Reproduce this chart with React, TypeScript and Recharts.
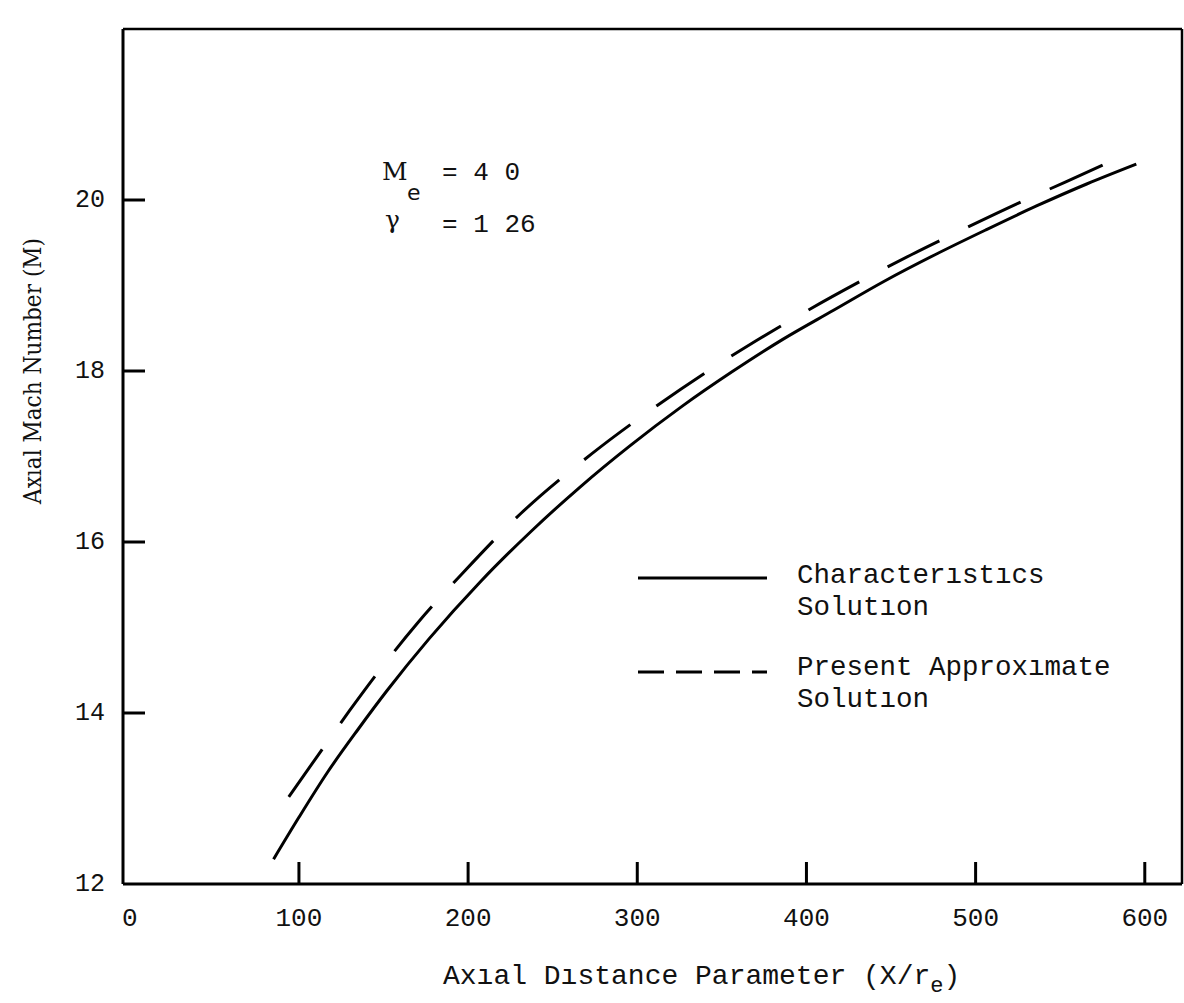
import React from 'react';
import { LineChart, Line, XAxis, YAxis, ReferenceLine, Legend } from 'recharts';

// ---- data ----
const xTicks = [0, 100, 200, 300, 400, 500, 600];
const yTicks = [12, 14, 16, 18, 20];

const charX = [85, 100, 117, 135, 152, 177, 207, 237, 266, 296, 326, 356, 386, 416, 446, 476, 506, 536, 566, 595];
const charM = [12.29, 12.78, 13.31, 13.81, 14.26, 14.87, 15.53, 16.12, 16.64, 17.13, 17.58, 17.99, 18.37, 18.71, 19.05, 19.36, 19.65, 19.93, 20.19, 20.42];

const approxX = [94, 110, 130, 150, 170, 197, 231, 273, 312, 341, 370, 400, 432, 462, 493, 525, 553, 581];
const approxM = [13.02, 13.47, 14.03, 14.56, 15.05, 15.64, 16.33, 17.03, 17.6, 17.99, 18.35, 18.7, 19.05, 19.36, 19.66, 19.96, 20.21, 20.46];

const seriesNames = ['Characterıstıcs|Solutıon', 'Present Approxımate|Solutıon'];

const charData = charX.map((x, i) => ({ x, m: charM[i] }));
const approxData = approxX.map((x, i) => ({ x, m: approxM[i] }));

const MONO = '"Liberation Mono", "DejaVu Sans Mono", monospace';
const SERIF = '"DejaVu Serif", "Liberation Serif", serif';
const INK = '#111';

const X_MARGIN = 35;
const Y_MARGIN = 33;
const TICK_LEN = 22;

const XTick = (props: any) => {
  const { x, y, payload } = props;
  const axisY = y - X_MARGIN;
  return (
    <g>
      {payload.value !== 0 && (
        <line x1={x} x2={x} y1={axisY} y2={axisY - TICK_LEN} stroke="#000" strokeWidth={3} />
      )}
      <text x={x} y={y} textAnchor="middle" dominantBaseline="central" fontFamily={MONO} fontSize={26} fill={INK}>
        {payload.value}
      </text>
    </g>
  );
};

const YTick = (props: any) => {
  const { x, y, payload } = props;
  const axisX = x + Y_MARGIN;
  return (
    <g>
      {payload.value !== 12 && (
        <line x1={axisX} x2={axisX + TICK_LEN} y1={y} y2={y} stroke="#000" strokeWidth={3} />
      )}
      <text x={x} y={y} textAnchor="middle" dominantBaseline="central" fontFamily={MONO} fontSize={25} fill={INK}>
        {payload.value}
      </text>
    </g>
  );
};

const legendRows = [
  { lineY: 578, textY: 583 },
  { lineY: 672, textY: 675 },
];

const LegendContent = (props: any) => {
  const payload = props.payload || [];
  return (
    <svg width={1184} height={1003} style={{ position: 'absolute', left: 0, top: 0 }}>
      {payload.map((entry: any, i: number) => {
        const row = legendRows[i];
        if (!row) return null;
        const dash = entry.payload && entry.payload.strokeDasharray;
        const lines = String(entry.value).split('|');
        return (
          <g key={i}>
            <line x1={638} x2={767} y1={row.lineY} y2={row.lineY} stroke="#000" strokeWidth={3}
              strokeDasharray={dash ? '26 12' : undefined} />
            {lines.map((t, k) => (
              <text key={k} x={797} y={row.textY + k * 32} fontFamily={MONO} fontSize={27.5} fill={INK}>{t}</text>
            ))}
          </g>
        );
      })}
    </svg>
  );
};

export default function App() {
  return (
    <div style={{ position: 'absolute', left: 0, top: 0, width: 1184, height: 1003, background: '#fff' }}>
      <LineChart width={1184} height={1003} margin={{ top: 29, right: 2, bottom: 0, left: 0 }}>
        <XAxis
          type="number"
          dataKey="x"
          domain={[-4, 622]}
          ticks={xTicks}
          allowDataOverflow
          height={119}
          tickLine={false}
          tickSize={0}
          tickMargin={X_MARGIN}
          axisLine={{ stroke: '#000', strokeWidth: 3 }}
          tick={<XTick />}
          interval={0}
          label={{
            content: () => (
              <text x={443} y={984} fontFamily={MONO} fontSize={28} fill={INK}>
                Axıal Dıstance Parameter (X/r
                <tspan dy={8} fontSize={22}>e</tspan>
                <tspan dy={-8}>)</tspan>
              </text>
            ),
          }}
        />
        <YAxis
          type="number"
          domain={[12, 22]}
          ticks={yTicks}
          allowDataOverflow
          width={123}
          tickLine={false}
          tickSize={0}
          tickMargin={Y_MARGIN}
          axisLine={{ stroke: '#000', strokeWidth: 3 }}
          tick={<YTick />}
          interval={0}
          label={{
            content: () => (
              <text x={41} y={371} transform="rotate(-90 41 371)" textAnchor="middle"
                fontFamily={SERIF} fontSize={24} fill={INK} textLength={266} lengthAdjust="spacingAndGlyphs">
                Axıal Mach Number (M)
              </text>
            ),
          }}
        />
        <ReferenceLine y={22} stroke="#000" strokeWidth={2.5} />
        <ReferenceLine x={622} stroke="#000" strokeWidth={2.5} />
        <Line
          data={charData}
          dataKey="m"
          name={seriesNames[0]}
          type="monotone"
          stroke="#000"
          strokeWidth={3}
          dot={false}
          activeDot={false}
          isAnimationActive={false}
        />
        <Line
          data={approxData}
          dataKey="m"
          name={seriesNames[1]}
          type="monotone"
          stroke="#000"
          strokeWidth={3}
          strokeDasharray="58 32"
          dot={false}
          activeDot={false}
          isAnimationActive={false}
        />
        <Legend
          layout="horizontal"
          verticalAlign="middle"
          align="center"
          wrapperStyle={{ left: 0, top: 0, width: 1184, height: 1003, pointerEvents: 'none' }}
          content={<LegendContent />}
        />
      </LineChart>
      <svg width={1184} height={1003} style={{ position: 'absolute', left: 0, top: 0, pointerEvents: 'none' }}>
        <text x={382} y={180} fontFamily={SERIF} fontSize={25} fill={INK}>M</text>
        <text x={407} y={200} fontFamily={'"DejaVu Sans", sans-serif'} fontSize={22} fill={INK}>e</text>
        <text x={442} y={180} fontFamily={MONO} fontSize={26} fill={INK} xmlSpace="preserve">= 4 0</text>
        <text x={385} y={228} fontFamily={SERIF} fontSize={25} fill={INK}>γ</text>
        <text x={442} y={232} fontFamily={MONO} fontSize={26} fill={INK} xmlSpace="preserve">= 1 26</text>
      </svg>
    </div>
  );
}
